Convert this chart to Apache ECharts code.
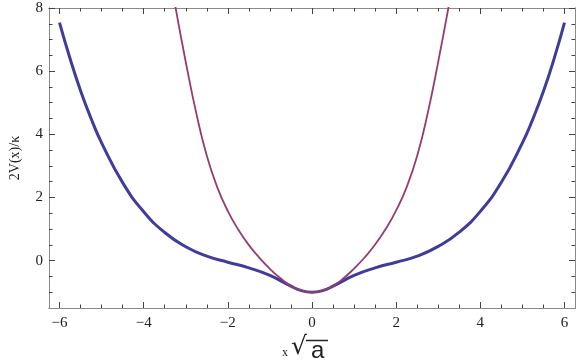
<!DOCTYPE html>
<html>
<head>
<meta charset="utf-8">
<script src="https://cdn.jsdelivr.net/npm/echarts@6/dist/echarts.min.js"></script>
<style>
html,body{margin:0;padding:0;background:#fff;}
#chart{width:583px;height:362px;}
</style>
</head>
<body>
<div id="chart"></div>
<script>
// Blue (thick) curve
const blueX = [-6, -5.75, -5.5, -5.25, -5, -4.5, -4, -3.5, -3, -2.5, -2, -1.5, -1, -0.5, -0.25, 0, 0.25, 0.5, 1, 1.5, 2, 2.5, 3, 3.5, 4, 4.5, 5, 5.25, 5.5, 5.75, 6];
const blueY = [7.54, 6.4, 5.38, 4.5, 3.73, 2.47, 1.55, 0.89, 0.44, 0.14, -0.05, -0.23, -0.47, -0.81, -0.95, -1.0, -0.95, -0.81, -0.47, -0.23, -0.05, 0.14, 0.45, 0.9, 1.56, 2.48, 3.73, 4.49, 5.36, 6.38, 7.54];
// Purple (thin) curve
const purpleX = [-3.25, -3, -2.75, -2.5, -2.25, -2, -1.75, -1.5, -1.25, -1, -0.75, -0.5, -0.25, 0, 0.25, 0.5, 0.75, 1, 1.25, 1.5, 1.75, 2, 2.25, 2.5, 2.75, 3, 3.25];
const purpleY = [8.07, 6.29, 4.67, 3.32, 2.32, 1.57, 0.98, 0.49, 0.09, -0.26, -0.56, -0.8, -0.95, -1.0, -0.95, -0.8, -0.56, -0.25, 0.1, 0.51, 1.0, 1.59, 2.33, 3.32, 4.67, 6.3, 8.07];
// Ticks
const xMajor = [-6, -4, -2, 0, 2, 4, 6];
const xMinor = [-6, -5.5, -5, -4.5, -4, -3.5, -3, -2.5, -2, -1.5, -1, -0.5, 0, 0.5, 1, 1.5, 2, 2.5, 3, 3.5, 4, 4.5, 5, 5.5, 6];
const yMajor = [0, 2, 4, 6, 8];
const yMinor = [-1, -0.5, 0, 0.5, 1, 1.5, 2, 2.5, 3, 3.5, 4, 4.5, 5, 5.5, 6, 6.5, 7, 7.5, 8];
const xRange = [-6.25, 6.25];
const yRange = [-1.5, 8];

const lineCol = '#8a8a8a';
const tickCol = '#444';
const serif = 'Liberation Serif';
const fmt = v => String(v).replace('-', '\u2212');

function xAx(pos, ticks, len, labels) {
  return {
    type: 'value', position: pos, min: xRange[0], max: xRange[1],
    axisLine: {show: true, onZero: false, lineStyle: {color: lineCol, width: 1}},
    axisTick: {show: true, inside: true, length: len, customValues: ticks, lineStyle: {color: tickCol, width: 1}},
    axisLabel: {show: labels, customValues: xMajor, formatter: fmt, fontFamily: serif, fontSize: 15, color: '#222', margin: 8},
    splitLine: {show: false}
  };
}
function yAx(pos, ticks, len, labels) {
  return {
    type: 'value', position: pos, min: yRange[0], max: yRange[1],
    axisLine: {show: true, onZero: false, lineStyle: {color: lineCol, width: 1}},
    axisTick: {show: true, inside: true, length: len, customValues: ticks, lineStyle: {color: tickCol, width: 1}},
    axisLabel: {show: labels, customValues: yMajor, formatter: fmt, fontFamily: serif, fontSize: 15, color: '#222', margin: 6},
    splitLine: {show: false}
  };
}

const chart = echarts.init(document.getElementById('chart'), null, {renderer: 'canvas'});
const yMain = yAx('left', yMajor, 6, true);
yMain.name = '2V(x)/\u03BA';
yMain.nameLocation = 'middle';
yMain.nameRotate = 90;
yMain.nameGap = 27;
yMain.nameTextStyle = {fontFamily: serif, fontSize: 14, color: '#222'};

chart.setOption({
  animation: false,
  backgroundColor: '#fff',
  grid: {left: 37, right: 8, top: 8, bottom: 54, containLabel: false},
  xAxis: [xAx('bottom', xMajor, 6, true), xAx('bottom', xMinor, 3.5, false), xAx('top', xMajor, 6, false), xAx('top', xMinor, 3.5, false)],
  yAxis: [yMain, yAx('left', yMinor, 3.5, false), yAx('right', yMajor, 6, false), yAx('right', yMinor, 3.5, false)],
  graphic: [
    {type: 'text', left: 282, top: 347, style: {text: 'x', font: '12px "Liberation Serif"', fill: '#222'}},
    {type: 'text', left: 291, top: 335, style: {text: '\u221A', font: '25px "DejaVu Sans"', fill: '#222'}},
    {type: 'text', left: 311, top: 339, style: {text: 'a', font: '24px "Liberation Sans"', fill: '#222'}},
    {type: 'line', shape: {x1: 306, y1: 340.5, x2: 328, y2: 340.5}, style: {stroke: '#222', lineWidth: 1.5}}
  ],
  series: [
    {
      type: 'line', xAxisIndex: 0, yAxisIndex: 0, showSymbol: false, symbol: 'none', smooth: 0.5, clip: true,
      data: blueX.map((x, i) => [x, blueY[i]]),
      lineStyle: {color: '#3f3d99', width: 3}
    },
    {
      type: 'line', xAxisIndex: 0, yAxisIndex: 0, showSymbol: false, symbol: 'none', smooth: 0.5, clip: true,
      data: purpleX.map((x, i) => [x, purpleY[i]]),
      lineStyle: {color: '#963c70', width: 1.8}
    }
  ]
});
</script>
</body>
</html>
